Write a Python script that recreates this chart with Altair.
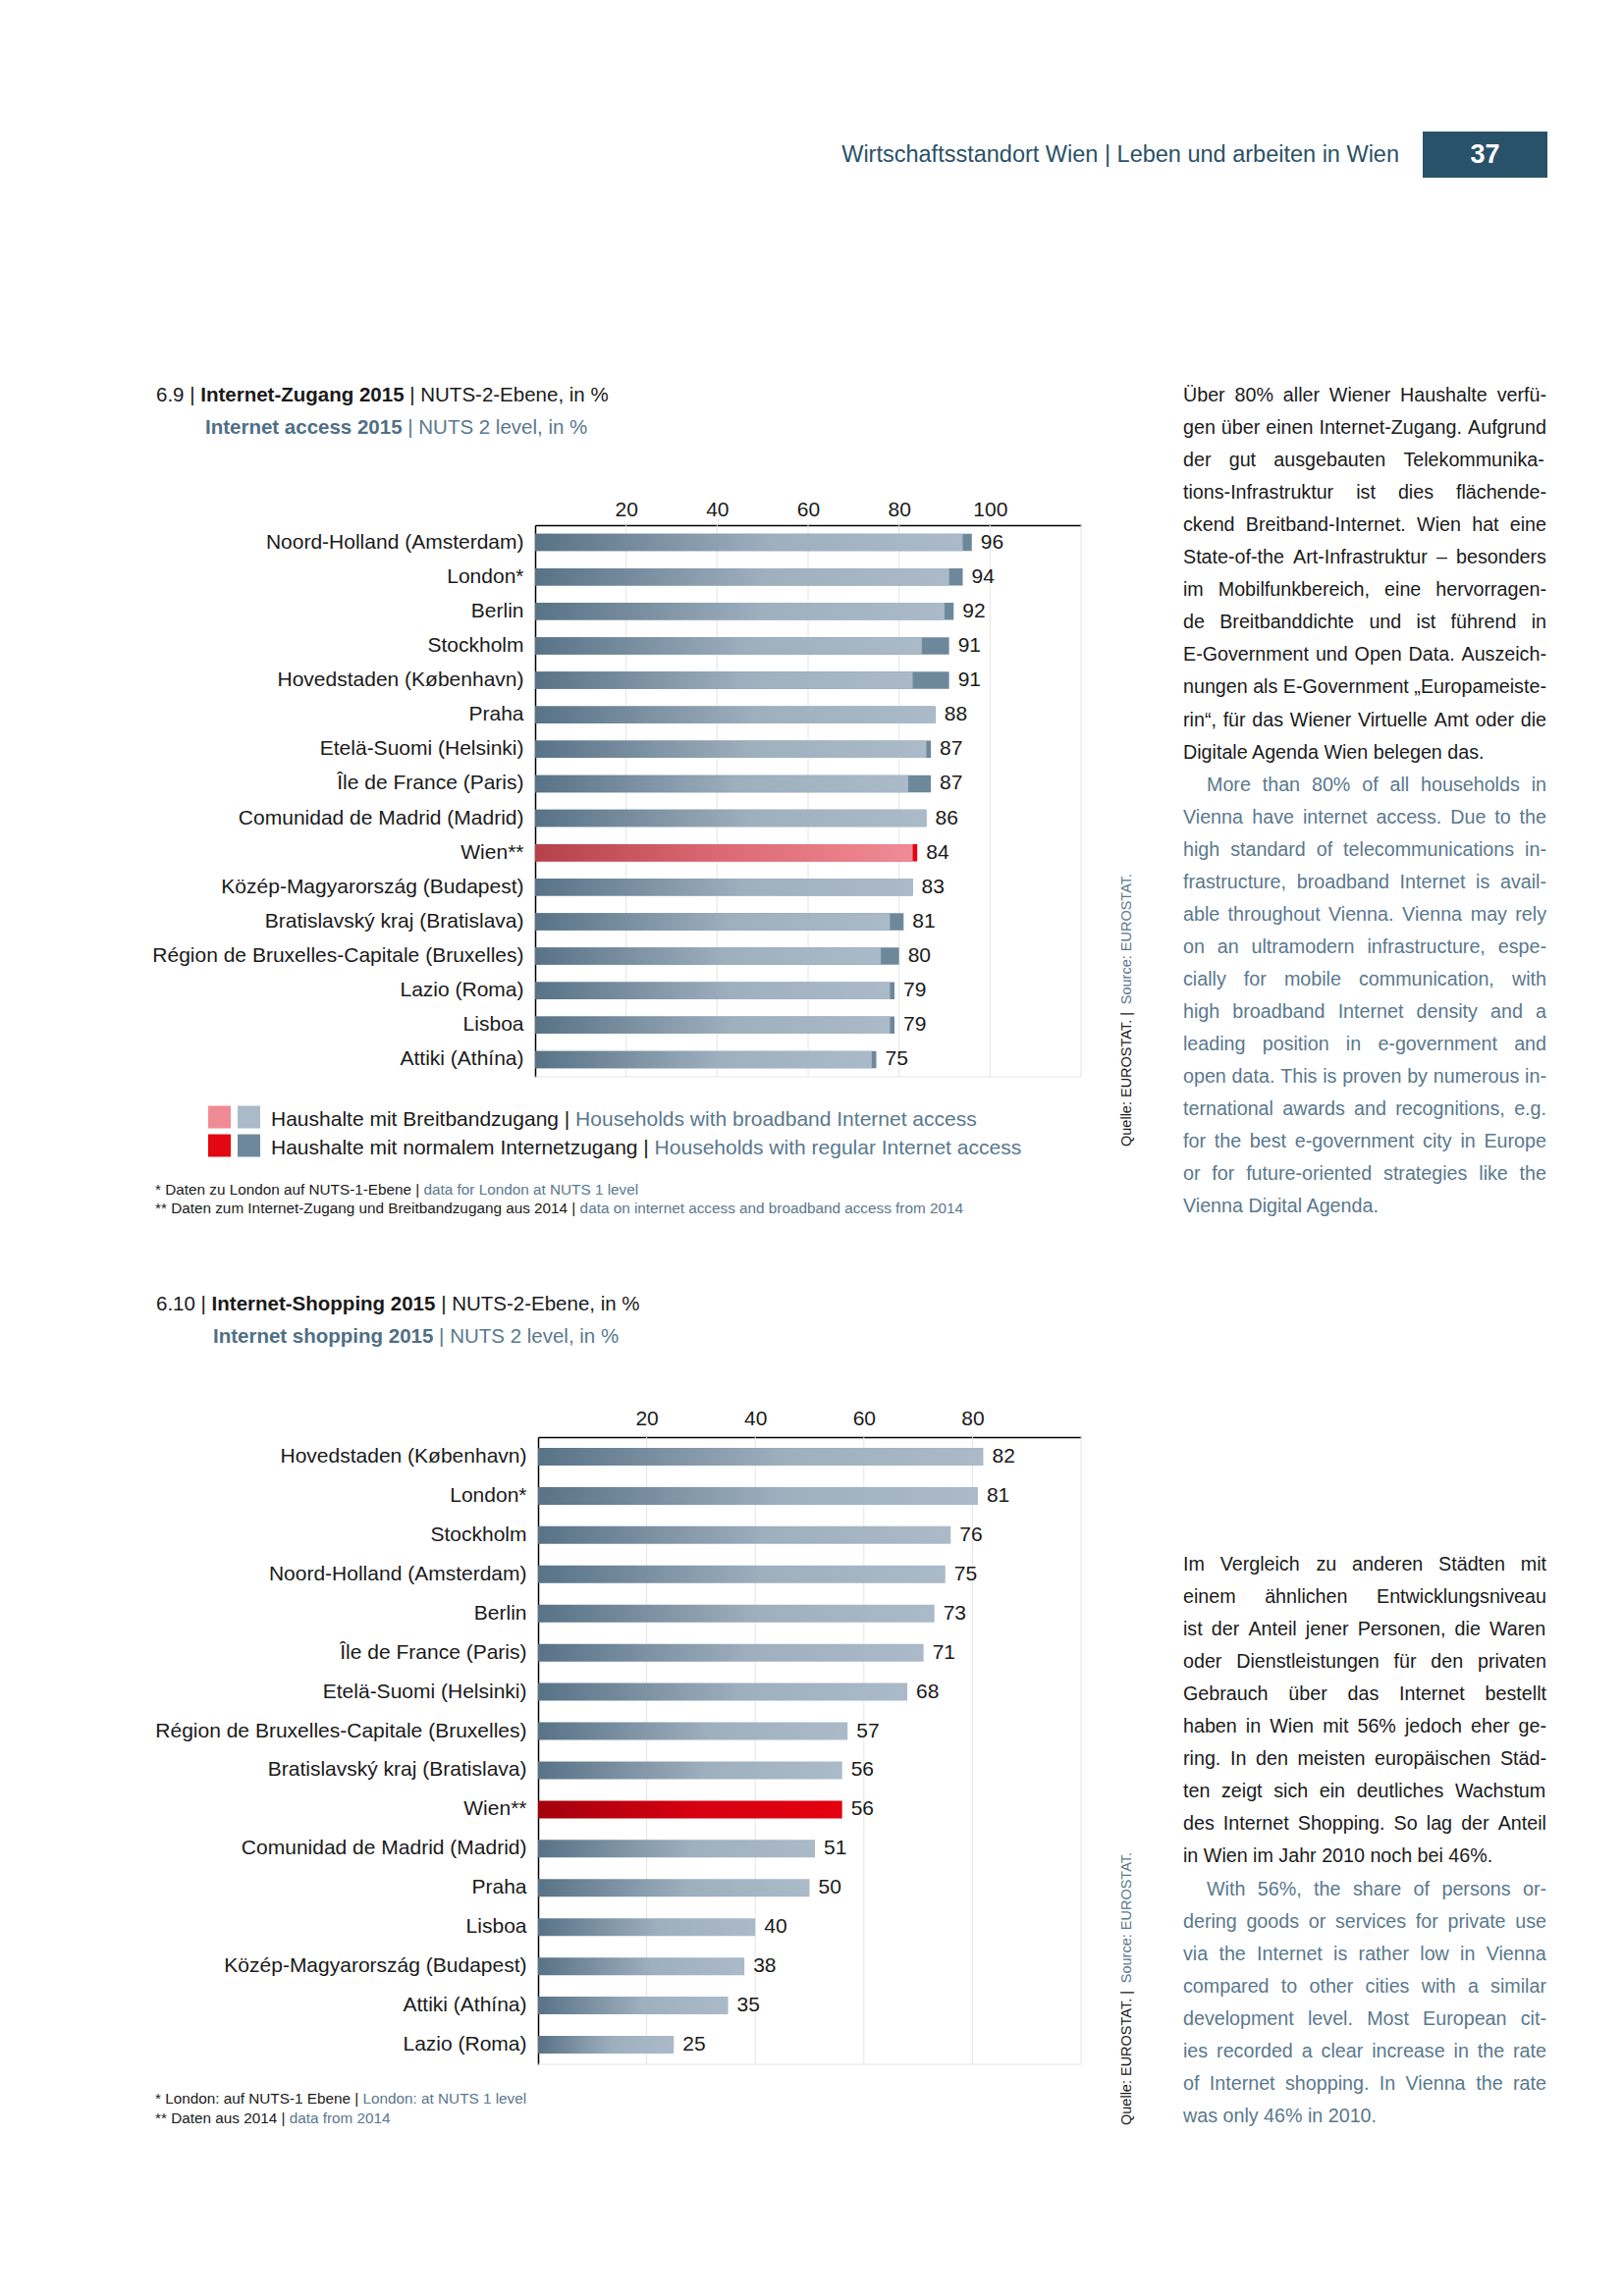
import altair as alt
import pandas as pd

# ---------------- data ----------------
access_cities = [
    "Noord-Holland (Amsterdam)", "London*", "Berlin", "Stockholm",
    "Hovedstaden (København)", "Praha", "Etelä-Suomi (Helsinki)",
    "Île de France (Paris)", "Comunidad de Madrid (Madrid)", "Wien**",
    "Közép-Magyarország (Budapest)", "Bratislavský kraj (Bratislava)",
    "Région de Bruxelles-Capitale (Bruxelles)", "Lazio (Roma)", "Lisboa",
    "Attiki (Athína)",
]
access_total = [96, 94, 92, 91, 91, 88, 87, 87, 86, 84, 83, 81, 80, 79, 79, 75]
access_broadband = [94, 91, 90, 85, 83, 88, 86, 82, 86, 83, 83, 78, 76, 78, 78, 74]
access_ticks = [20, 40, 60, 80, 100]
ACCESS_MAX = 120

shop_cities = [
    "Hovedstaden (København)", "London*", "Stockholm", "Noord-Holland (Amsterdam)",
    "Berlin", "Île de France (Paris)", "Etelä-Suomi (Helsinki)",
    "Région de Bruxelles-Capitale (Bruxelles)", "Bratislavský kraj (Bratislava)",
    "Wien**", "Comunidad de Madrid (Madrid)", "Praha", "Lisboa",
    "Közép-Magyarország (Budapest)", "Attiki (Athína)", "Lazio (Roma)",
]
shop_values = [82, 81, 76, 75, 73, 71, 68, 57, 56, 56, 51, 50, 40, 38, 35, 25]
shop_ticks = [20, 40, 60, 80]
SHOP_MAX = 100

HIGHLIGHT = "Wien**"

# ---------------- style ----------------
FONT = "Liberation Sans"
INK = "#1a1a1a"
BLUE = "#5a788d"
BLUE_T = "#4f6f85"
HEAD = "#2b5166"
GRID = "#e4e4e4"
CAP = "#6e889b"
RED = "#e30613"
M = 8


def px(v):
    return v - M


def grad(stops):
    return alt.LinearGradient(
        gradient="linear", x1=0, x2=1, y1=0, y2=0,
        stops=[alt.GradientStop(offset=o, color=c) for o, c in stops],
    )


GRAD_BLUE = grad([(0, "#587286"), (0.55, "#9eafbe"), (1, "#aabac8")])
GRAD_PINK = grad([(0, "#b5414a"), (0.5, "#dc6a74"), (1, "#f08b95")])
GRAD_RED = grad([(0, "#a3000e"), (0.5, "#d40010"), (1, "#e4000f")])

# Helvetica / Liberation Sans metrics (1/1000 em)
REG = {" ": 278, "!": 278, '"': 355, "%": 889, "&": 667, "'": 191, "(": 333, ")": 333,
       "*": 389, "+": 584, ",": 278, "-": 333, ".": 278, "/": 278, ":": 278, ";": 278,
       "?": 556, "|": 260, "–": 556, "„": 333, "“": 333, "”": 333,
       "A": 667, "B": 667, "C": 722, "D": 722, "E": 667, "F": 611, "G": 778, "H": 722,
       "I": 278, "J": 500, "K": 667, "L": 556, "M": 833, "N": 722, "O": 778, "P": 667,
       "Q": 778, "R": 722, "S": 667, "T": 611, "U": 722, "V": 667, "W": 944, "X": 667,
       "Y": 667, "Z": 611, "a": 556, "b": 556, "c": 500, "d": 556, "e": 556, "f": 278,
       "g": 556, "h": 556, "i": 222, "j": 222, "k": 500, "l": 222, "m": 833, "n": 556,
       "o": 556, "p": 556, "q": 556, "r": 333, "s": 500, "t": 278, "u": 556, "v": 500,
       "w": 722, "x": 500, "y": 500, "z": 500, "ä": 556, "ö": 556, "ü": 556, "Ü": 722,
       "é": 556, "á": 556, "í": 278, "ý": 500, "ø": 611, "Î": 278, "ß": 611}
BOLD = {" ": 278, "%": 889, "-": 333, ".": 278, ",": 278, "|": 280, ":": 333,
        "A": 722, "B": 722, "C": 722, "D": 722, "E": 667, "F": 611, "G": 778, "H": 722,
        "I": 278, "J": 556, "K": 722, "L": 611, "M": 833, "N": 722, "O": 778, "P": 667,
        "Q": 778, "R": 722, "S": 667, "T": 611, "U": 722, "V": 667, "W": 944, "X": 667,
        "Y": 667, "Z": 611, "a": 556, "b": 611, "c": 556, "d": 611, "e": 556, "f": 333,
        "g": 611, "h": 611, "i": 278, "j": 278, "k": 556, "l": 278, "m": 889, "n": 611,
        "o": 611, "p": 611, "q": 611, "r": 389, "s": 556, "t": 333, "u": 611, "v": 556,
        "w": 778, "x": 556, "y": 556, "z": 500}


def tw(s, size, bold=False):
    table = BOLD if bold else REG
    return sum(table.get(ch, 556) for ch in s) * size / 1000.0


texts = {}


def add(x, y, text, color=INK, size=19.7, align="left", bold=False, angle=0):
    texts.setdefault((align, bold), []).append(
        dict(x=px(x), y=px(y), text=text.strip(), color=color, size=size, angle=angle))


def add_parts(x, y, parts, size):
    # leading / trailing blanks are kept in the width sums, SVG drops them
    for text, color, bold in parts:
        lead = len(text) - len(text.lstrip(" "))
        add(x + tw(" " * lead, size, bold), y, text, color, size, bold=bold)
        x += tw(text, size, bold)


def add_vertical(x, y, parts, size):
    for text, color in parts:
        add(x, y, text, color, size, angle=270)
        y -= tw(text, size)


def add_paragraph(lines, x0, y0, width, size, color, lh, indent):
    for i, line in enumerate(lines):
        y = y0 + i * lh
        xs = x0 + (indent if i == 0 else 0)
        words = line.split(" ")
        if i == len(lines) - 1 or len(words) < 2:
            add(xs, y, line, color, size)
            continue
        ws = [tw(w, size) for w in words]
        gap = (x0 + width - xs - sum(ws)) / (len(words) - 1)
        if gap < 0.15 * size:
            gap = 0.278 * size
        x = xs
        for w, wd in zip(words, ws):
            add(x, y, w, color, size)
            x += wd + gap


# ---------------- page texts ----------------
add(1425, 158, "Wirtschaftsstandort Wien | Leben und arbeiten in Wien", HEAD, 23.5, align="right")
add(1512.5, 158, "37", "#ffffff", 27, align="center", bold=True)

add_parts(159, 403, [("6.9 | ", INK, False), ("Internet-Zugang 2015 ", INK, True),
                     ("| NUTS-2-Ebene, in %", INK, False)], 20.5)
add_parts(209, 436, [("Internet access 2015 ", BLUE_T, True),
                     ("| NUTS 2 level, in %", BLUE, False)], 20.5)
add_parts(159, 1329, [("6.10 | ", INK, False), ("Internet-Shopping 2015 ", INK, True),
                      ("| NUTS-2-Ebene, in %", INK, False)], 20.5)
add_parts(217, 1362, [("Internet shopping 2015 ", BLUE_T, True),
                      ("| NUTS 2 level, in %", BLUE, False)], 20.5)

add_parts(276, 1141, [("Haushalte mit Breitbandzugang | ", INK, False),
                      ("Households with broadband Internet access", BLUE, False)], 21)
add_parts(276, 1170, [("Haushalte mit normalem Internetzugang | ", INK, False),
                      ("Households with regular Internet access", BLUE, False)], 21)

add_parts(158, 1211.5, [("* Daten zu London auf NUTS-1-Ebene | ", INK, False),
                        ("data for London at NUTS 1 level", BLUE, False)], 15.3)
add_parts(158, 1231, [("** Daten zum Internet-Zugang und Breitbandzugang aus 2014 | ", INK, False),
                      ("data on internet access and broadband access from 2014", BLUE, False)], 15.3)
add_parts(158, 2138, [("* London: auf NUTS-1 Ebene | ", INK, False),
                      ("London: at NUTS 1 level", BLUE, False)], 15.3)
add_parts(158, 2157.5, [("** Daten aus 2014 | ", INK, False),
                        ("data from 2014", BLUE, False)], 15.3)

add_vertical(1148, 1168, [("Quelle: EUROSTAT. | ", INK), ("Source: EUROSTAT.", BLUE)], 14.5)
add_vertical(1148, 2165, [("Quelle: EUROSTAT. | ", INK), ("Source: EUROSTAT.", BLUE)], 14.5)

de_top = [
    "Über 80% aller Wiener Haushalte verfü-",
    "gen über einen Internet-Zugang. Aufgrund",
    "der gut ausgebauten Telekommunika-",
    "tions-Infrastruktur ist dies flächende-",
    "ckend Breitband-Internet. Wien hat eine",
    "State-of-the Art-Infrastruktur – besonders",
    "im Mobilfunkbereich, eine hervorragen-",
    "de Breitbanddichte und ist führend in",
    "E-Government und Open Data. Auszeich-",
    "nungen als E-Government „Europameiste-",
    "rin“, für das Wiener Virtuelle Amt oder die",
    "Digitale Agenda Wien belegen das.",
]
en_top = [
    "More than 80% of all households in",
    "Vienna have internet access. Due to the",
    "high standard of telecommunications in-",
    "frastructure, broadband Internet is avail-",
    "able throughout Vienna. Vienna may rely",
    "on an ultramodern infrastructure, espe-",
    "cially for mobile communication, with",
    "high broadband Internet density and a",
    "leading position in e-government and",
    "open data. This is proven by numerous in-",
    "ternational awards and recognitions, e.g.",
    "for the best e-government city in Europe",
    "or for future-oriented strategies like the",
    "Vienna Digital Agenda.",
]
de_bottom = [
    "Im Vergleich zu anderen Städten mit",
    "einem ähnlichen Entwicklungsniveau",
    "ist der Anteil jener Personen, die Waren",
    "oder Dienstleistungen für den privaten",
    "Gebrauch über das Internet bestellt",
    "haben in Wien mit 56% jedoch eher ge-",
    "ring. In den meisten europäischen Städ-",
    "ten zeigt sich ein deutliches Wachstum",
    "des Internet Shopping. So lag der Anteil",
    "in Wien im Jahr 2010 noch bei 46%.",
]
en_bottom = [
    "With 56%, the share of persons or-",
    "dering goods or services for private use",
    "via the Internet is rather low in Vienna",
    "compared to other cities with a similar",
    "development level. Most European cit-",
    "ies recorded a clear increase in the rate",
    "of Internet shopping. In Vienna the rate",
    "was only 46% in 2010.",
]
LH = 33.05
add_paragraph(de_top, 1205, 403, 370, 19.7, INK, LH, 0)
add_paragraph(en_top, 1205, 799.7, 370, 19.7, BLUE, LH, 24)
add_paragraph(de_bottom, 1205, 1593.5, 370, 19.7, INK, LH, 0)
add_paragraph(en_bottom, 1205, 1924.7, 370, 19.7, BLUE, LH, 24)

# ---------------- boxes (header box, legend swatches) ----------------
rects = pd.DataFrame([
    dict(x=px(1449), x2=px(1576), y=px(134), y2=px(181), color="#27526a"),
    dict(x=px(212), x2=px(235), y=px(1126.5), y2=px(1149.5), color="#f08b95"),
    dict(x=px(242), x2=px(265), y=px(1126.5), y2=px(1149.5), color="#aabac8"),
    dict(x=px(212), x2=px(235), y=px(1155.5), y2=px(1178.5), color=RED),
    dict(x=px(242), x2=px(265), y=px(1155.5), y2=px(1178.5), color=CAP),
])
rect_layer = alt.Chart(rects).mark_rect().encode(
    x=alt.X("x:Q", scale=None, axis=None), x2="x2:Q",
    y=alt.Y("y:Q", scale=None, axis=None), y2="y2:Q",
    color=alt.Color("color:N", scale=None),
)


def x_axis(top, values, pad):
    # axis moved from the top edge of the page down to the plot's top line
    return alt.Axis(orient="top", offset=-top, values=values, title=None, ticks=False,
                    domainColor="#000000", domainWidth=1.5, labelPadding=pad,
                    labelBaseline="middle", labelFont=FONT, labelFontSize=21,
                    labelColor=INK, grid=False, labelFlush=False)


def y_axis(left):
    return alt.Axis(orient="left", offset=-left, title=None, ticks=False,
                    domainColor="#000000", domainWidth=1.5, labelPadding=12,
                    labelFont=FONT, labelFontSize=21, labelColor=INK, labelLimit=0,
                    grid=False)


not_w = alt.datum.city != HIGHLIGHT
is_w = alt.datum.city == HIGHLIGHT

# ---------------- chart 6.9 ----------------
df_access = pd.DataFrame({"city": access_cities, "total": access_total,
                          "broadband": access_broadband})
df_access["label"] = df_access["total"].astype(str)

T1, B1, L1, R1 = 535, 1097, 545, 1101
X1 = alt.Scale(domain=[0, ACCESS_MAX], range=[px(L1), px(R1)], nice=False, zero=True)
Y1 = alt.Scale(domain=access_cities, range=[px(T1), px(B1)], paddingInner=0.5, paddingOuter=0.25)

b1 = alt.Chart(df_access)
grid1 = alt.Chart(pd.DataFrame({"t": access_ticks + [ACCESS_MAX]})).mark_rule(
    color=GRID, strokeWidth=1).encode(
    x=alt.X("t:Q", scale=X1, axis=None), y=alt.value(px(T1)), y2=alt.value(px(B1)))
base_line1 = alt.Chart(pd.DataFrame({"a": [0], "b": [ACCESS_MAX]})).mark_rule(
    color=GRID, strokeWidth=1).encode(
    x=alt.X("a:Q", scale=X1, axis=None), x2="b:Q", y=alt.value(px(B1)))

cap1 = b1.transform_filter(not_w).mark_bar(color=CAP).encode(
    x=alt.X("total:Q", scale=X1, axis=x_axis(px(T1), access_ticks, 16)),
    y=alt.Y("city:N", scale=Y1, axis=y_axis(px(L1)), sort=None))
bb1 = b1.transform_filter(not_w).mark_bar(color=GRAD_BLUE).encode(
    x=alt.X("broadband:Q", scale=X1, axis=None),
    y=alt.Y("city:N", scale=Y1, axis=None, sort=None))
capw1 = b1.transform_filter(is_w).mark_bar(color=RED).encode(
    x=alt.X("total:Q", scale=X1, axis=None),
    y=alt.Y("city:N", scale=Y1, axis=None, sort=None))
bbw1 = b1.transform_filter(is_w).mark_bar(color=GRAD_PINK).encode(
    x=alt.X("broadband:Q", scale=X1, axis=None),
    y=alt.Y("city:N", scale=Y1, axis=None, sort=None))
lab1 = b1.mark_text(align="left", baseline="middle", dx=9, font=FONT, fontSize=21,
                    color=INK).encode(
    x=alt.X("total:Q", scale=X1, axis=None),
    y=alt.Y("city:N", scale=Y1, axis=None, sort=None), text="label:N")

# ---------------- chart 6.10 ----------------
df_shop = pd.DataFrame({"city": shop_cities, "value": shop_values})
df_shop["label"] = df_shop["value"].astype(str)

T2, B2, L2, R2 = 1464, 2103, 548, 1101
X2 = alt.Scale(domain=[0, SHOP_MAX], range=[px(L2), px(R2)], nice=False, zero=True)
Y2 = alt.Scale(domain=shop_cities, range=[px(T2), px(B2)], paddingInner=0.55, paddingOuter=0.275)

b2 = alt.Chart(df_shop)
grid2 = alt.Chart(pd.DataFrame({"t": shop_ticks + [SHOP_MAX]})).mark_rule(
    color=GRID, strokeWidth=1).encode(
    x=alt.X("t:Q", scale=X2, axis=None), y=alt.value(px(T2)), y2=alt.value(px(B2)))
base_line2 = alt.Chart(pd.DataFrame({"a": [0], "b": [SHOP_MAX]})).mark_rule(
    color=GRID, strokeWidth=1).encode(
    x=alt.X("a:Q", scale=X2, axis=None), x2="b:Q", y=alt.value(px(B2)))
bar2 = b2.transform_filter(not_w).mark_bar(color=GRAD_BLUE).encode(
    x=alt.X("value:Q", scale=X2, axis=x_axis(px(T2), shop_ticks, 19)),
    y=alt.Y("city:N", scale=Y2, axis=y_axis(px(L2)), sort=None))
barw2 = b2.transform_filter(is_w).mark_bar(color=GRAD_RED).encode(
    x=alt.X("value:Q", scale=X2, axis=None),
    y=alt.Y("city:N", scale=Y2, axis=None, sort=None))
lab2 = b2.mark_text(align="left", baseline="middle", dx=9, font=FONT, fontSize=21,
                    color=INK).encode(
    x=alt.X("value:Q", scale=X2, axis=None),
    y=alt.Y("city:N", scale=Y2, axis=None, sort=None), text="label:N")

# ---------------- text layers ----------------
text_layers = []
for (align, bold), items in texts.items():
    text_layers.append(
        alt.Chart(pd.DataFrame(items)).mark_text(
            align=align, baseline="middle", font=FONT,
            fontWeight="bold" if bold else "normal").encode(
            x=alt.X("x:Q", scale=None, axis=None),
            y=alt.Y("y:Q", scale=None, axis=None),
            text="text:N",
            color=alt.Color("color:N", scale=None),
            size=alt.Size("size:Q", scale=None),
            angle=alt.Angle("angle:Q", scale=None),
        ))

chart = alt.layer(
    rect_layer,
    grid1, base_line1, cap1, bb1, capw1, bbw1, lab1,
    grid2, base_line2, bar2, barw2, lab2,
    *text_layers,
).resolve_scale(x="independent", y="independent").properties(
    width=1654 - 2 * M, height=2339 - 2 * M, padding=0,
    autosize=alt.AutoSizeParams(type="none"), background="#ffffff",
).configure_view(stroke=None)

chart.save("out.html", embed_options={"renderer": "svg", "actions": False})
